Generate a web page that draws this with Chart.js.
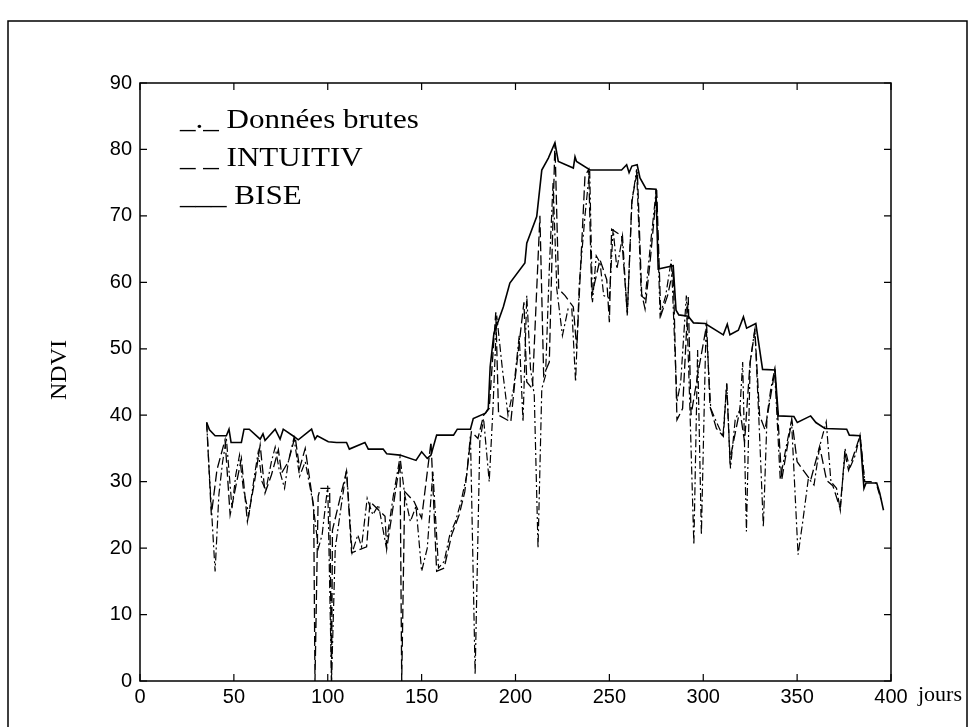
<!DOCTYPE html>
<html lang="fr">
<head>
<meta charset="UTF-8">
<title>NDVI - Données brutes, INTUITIV, BISE</title>
<script src="https://cdn.jsdelivr.net/npm/chart.js"></script>
<style>
  body { margin: 0; background: #fff; }
  canvas { display: block; }
</style>
</head>
<body>
<canvas id="ndviChart" width="975" height="727"></canvas>
<script>
// Données brutes (tirets-points)
const bruteJours = [35.5,37,40,42,44,46,49,51,53,55,
  58,61,63,65,67,70,72,74,77,79,
  82,85,88,92,95,97,100,102,104,107,
  110,113,116,118,121,124,127,131,135,138.5,
  141,144,147,150,153,156,159,162,165,168,
  171,174,176,178.5,181,183,186,188,190,193,
  196,199,202,204,206,208,210,212,214,216,
  218,220,222,225,228,230,232,234,237,239.5,
  241,243,245,247,250,252,254,257,259.5,262,
  264.5,267,269,272,275,277,280,283,286,288,
  291,293,295,297,299,301.5,304,307,310.5,312.5,
  314.5,317,319.5,321,323,325,327.5,330,332,334,
  336,338,341,344,347,350.5,353,356,359,362,
  365.5,368,371,373,375.5,378,381,383.5,386,389,
  392,395];
const bruteNdvi = [38.9,31,16.5,28,33,36.5,26,31,34,29,
  25,31,34.5,30,28.7,33,35.2,32,29,33,
  36.6,30.8,33,27,20,22,29.4,0,20,26,
  31.8,19.3,22,20.2,27.5,25,26.5,20.4,28,33.7,
  28,24,26.3,16.5,20,31.5,17,18,22,24,
  27,31,37,1,36,39.5,30,41,55,47,
  40,44,52,39,58,47,43,20,44,46,
  62,75,59,52,56,56,45,60,70,77,
  57,64,63,58,57.6,68,62,67,55,72,
  77,58,57.5,66,74,55,58,63.4,42,45,
  58,40,20.5,49.8,22,53.6,41,39,36.8,44.7,
  32,39.3,40.8,48,22.5,48,53,37,23.2,40,
  44,46.8,30.3,35,39.2,19,24,30.5,29.5,35.3,
  39,30,29,25.7,35,32,34,37,30,30,
  29.8,27];

// INTUITIV (tirets)
const intuitivJours = [35.5,38,41,45.3,48,54,57.2,61,64,66.6,
  70,73.7,75.4,79,82.6,85,88,92.5,93.2,94.9,
  96,101,102,102.5,110,112.7,120.7,122.5,130.5,131.4,
  138.5,139.4,141,146,150,155,158,162,166,170,
  173,176.5,180,183,186,189.5,191,197.5,200,204.5,
  206,209,213,215,218,221,223,226.4,230.8,232.6,
  237,239,240.6,245,248.6,250,251.2,256.5,259.6,262,
  264.9,267.2,269,272,275.2,277.4,281,284,286,289,
  292,293.5,297,301.8,303.6,307,310.7,312.5,314.2,319.5,
  322,324.9,327.5,330,332.9,338.2,341.8,347.2,350,357.2,
  362,365.7,369,372.9,375.5,377.4,383.5,386];
const intuitivNdvi = [38.9,25,31.8,36.3,25,33.5,24,30,35.5,28.3,
  31,34.8,31.3,33,36.8,32,35,26.2,0,27.8,
  29,29,0,22.7,31.6,19.3,20.2,27,24.8,19.9,
  33,0,28.5,27,24.5,36,16.5,17,22,25,
  28.5,37.5,36.5,40,41,55.5,40,39,46,57,
  45,44,70,46,48,81,59,58,56.3,50,
  76,77,58,63.4,60.4,54,68,67,55.3,72.4,
  76.7,58.3,56,64,73.9,55,58,61.9,39.3,41,
  57.8,40,46,53.6,41.3,38,36.8,44.8,33.3,40.8,
  36,47.8,52.8,40,37.8,46.8,30.3,39.3,33,30.2,
  35.3,30.2,29.4,26,34.2,31.7,36.9,30];

// BISE (trait plein)
const biseJours = [35.5,37,40,46,47.4,48.5,54,55.4,58.2,64,
  65.5,66.6,72,74.6,76.3,82,84.3,91.4,93.2,94.4,
  100.3,104.7,110,111.5,119.8,121.6,129.5,131.4,138.5,147,
  150,153,155,158,167,169,176,177.5,184,185.5,
  186.5,188.5,193.5,197,205,206,211.3,214,217.5,221,
  222.8,230.8,231.7,232.5,239.7,256.5,259.2,260.5,262,264.8,
  266.3,269.5,274.8,276,284,285.5,287,292,294.8,301,
  310.7,312.8,314.2,318.7,321.4,323.1,328,331.6,338.2,340,
  348.3,350.1,357.2,360,364.8,376.4,377.8,383.5,385.6,386.7,
  392.4,394,396];
const biseNdvi = [38.9,37.8,36.9,36.9,37.9,35.9,35.9,37.9,37.9,36.4,
  37.2,36.2,37.9,36.4,37.9,36.8,36.3,37.9,36.4,36.9,
  36,35.9,35.9,34.9,35.9,34.9,34.9,34.2,34,33.2,
  34.5,33.5,34,37,37,37.9,37.9,39.5,40.3,41,
  47.3,52.3,56.3,59.9,62.9,65.9,69.9,76.9,78.7,81,
  78.2,77.2,78.9,78.2,76.9,76.9,77.7,76.5,77.5,77.7,
  75.7,74.1,74,62,62.5,55.8,55.1,54.9,53.9,53.8,
  52.1,53.7,52.1,52.8,54.8,53.1,53.8,46.9,46.8,39.9,
  39.8,38.9,39.9,38.9,38,37.9,37,36.9,29,29.8,
  29.8,28.3,25.7];

const legendeLignes = ['_._ Données brutes', '_ _ INTUITIV', '___ BISE'];

const pts = (xs, ys) => xs.map((x, i) => ({ x: x, y: ys[i] }));
const tickFont = { family: "'Liberation Sans', Arial, sans-serif", size: 20 };
const serif = "'Liberation Serif', 'Times New Roman', serif";

// cadre, graduations internes, légende et titres d'axes
const cadre = {
  id: 'cadre',
  beforeDraw(chart) {
    const c = chart.ctx;
    c.save();
    c.fillStyle = '#fff';
    c.fillRect(0, 0, chart.width, chart.height);
    c.restore();
  },
  afterDraw(chart) {
    const c = chart.ctx;
    const a = chart.chartArea;
    const sx = chart.scales.x, sy = chart.scales.y;
    c.save();
    c.strokeStyle = '#000';
    c.fillStyle = '#000';
    c.lineWidth = 1.5;
    c.strokeRect(a.left, a.top, a.right - a.left, a.bottom - a.top);

    // ticks vers l'intérieur sur les 4 côtés
    c.lineWidth = 1.2;
    c.beginPath();
    sx.ticks.forEach(t => {
      const px = sx.getPixelForValue(t.value);
      c.moveTo(px, a.bottom); c.lineTo(px, a.bottom - 7);
      c.moveTo(px, a.top); c.lineTo(px, a.top + 7);
    });
    sy.ticks.forEach(t => {
      const py = sy.getPixelForValue(t.value);
      c.moveTo(a.left, py); c.lineTo(a.left + 7, py);
      c.moveTo(a.right, py); c.lineTo(a.right - 7, py);
    });
    c.stroke();

    // cadre de la figure
    c.lineWidth = 1.5;
    c.beginPath();
    c.moveTo(8, chart.height); c.lineTo(8, 21); c.lineTo(967, 21); c.lineTo(967, chart.height);
    c.stroke();

    // légende
    c.font = '27px ' + serif;
    c.textBaseline = 'alphabetic';
    const baselines = [128, 166, 204];
    legendeLignes.forEach((txt, i) => {
      c.save();
      c.translate(180, baselines[i]);
      c.scale(1.15, 1);
      c.fillText(txt, 0, 0);
      c.restore();
    });

    // "jours"
    c.save();
    c.font = '22px ' + serif;
    c.fillText('jours', 918, 701);
    c.restore();

    // "NDVI"
    c.save();
    c.font = '24px ' + serif;
    c.textAlign = 'center';
    c.textBaseline = 'middle';
    c.translate(60, 370);
    c.rotate(-Math.PI / 2);
    c.fillText('NDVI', 0, 0);
    c.restore();

    c.restore();
  }
};

const ctx = document.getElementById('ndviChart').getContext('2d');
new Chart(ctx, {
  type: 'line',
  data: {
    datasets: [
      {
        label: 'Données brutes',
        data: pts(bruteJours, bruteNdvi),
        borderColor: '#000',
        borderWidth: 1.2,
        borderDash: [8, 3, 2, 3],
        pointRadius: 0,
        tension: 0
      },
      {
        label: 'INTUITIV',
        data: pts(intuitivJours, intuitivNdvi),
        borderColor: '#000',
        borderWidth: 1.3,
        borderDash: [10, 4],
        pointRadius: 0,
        tension: 0
      },
      {
        label: 'BISE',
        data: pts(biseJours, biseNdvi),
        borderColor: '#000',
        borderWidth: 1.6,
        pointRadius: 0,
        tension: 0
      }
    ]
  },
  options: {
    responsive: false,
    animation: false,
    devicePixelRatio: 1,
    layout: { padding: { top: 83, right: 84, left: 0, bottom: 0 } },
    plugins: {
      legend: { display: false },
      tooltip: { enabled: false }
    },
    scales: {
      x: {
        type: 'linear',
        min: 0,
        max: 400,
        afterFit: s => { s.height = 46; },
        ticks: { stepSize: 50, font: tickFont, color: '#000', padding: 4, maxRotation: 0 },
        grid: { display: false, drawTicks: false },
        border: { display: false }
      },
      y: {
        min: 0,
        max: 90,
        afterFit: s => { s.width = 140; },
        ticks: { stepSize: 10, font: tickFont, color: '#000', padding: 8 },
        grid: { display: false, drawTicks: false },
        border: { display: false }
      }
    }
  },
  plugins: [cadre]
});
</script>
</body>
</html>
